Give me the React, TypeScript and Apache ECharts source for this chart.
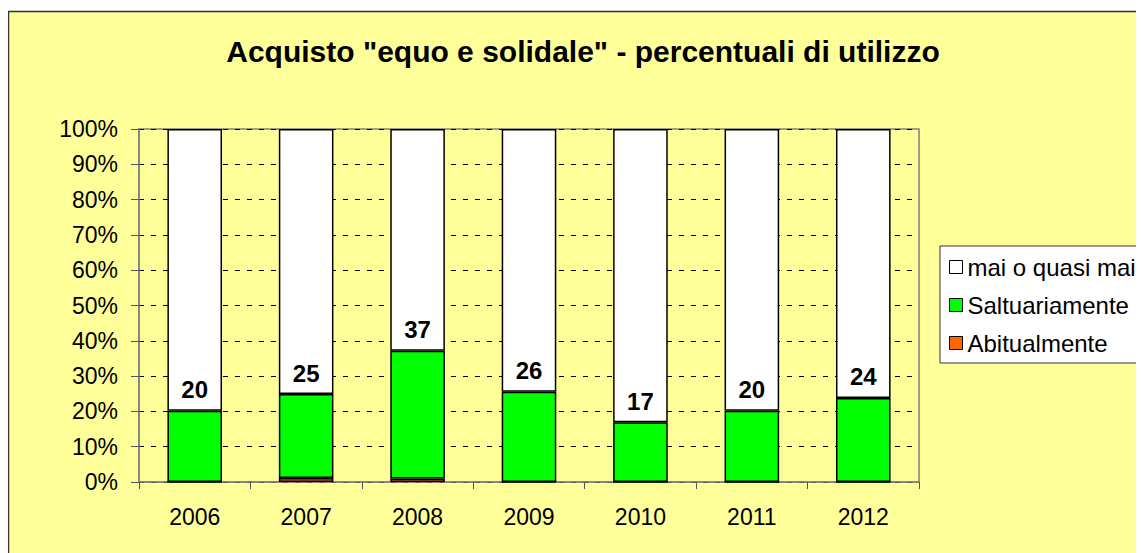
import React, { useEffect, useRef } from "react";
import * as echarts from "echarts";

const titleText = 'Acquisto "equo e solidale" - percentuali di utilizzo';
const years = ["2006", "2007", "2008", "2009", "2010", "2011", "2012"];
const abitualmente = [0, 1.1, 1, 0, 0, 0, 0];
const saltuariamente = [20.2, 23.8, 36.2, 25.6, 16.9, 20.2, 23.8];
const totali = [20, 25, 37, 26, 17, 20, 24];
const maiOQuasiMai = years.map((_, i) => 100 - abitualmente[i] - saltuariamente[i]);
const yTicks = { min: 0, max: 100, interval: 10 };

const FONT = "'Liberation Sans', Arial, sans-serif";

export default function App() {
  const ref = useRef<HTMLDivElement>(null);
  useEffect(() => {
    if (!ref.current) return;
    const chart = echarts.init(ref.current, null, { renderer: "svg" });
    const barBorder = { borderColor: "#000", borderWidth: 1.5 };
    chart.setOption({
      animation: false,
      textStyle: { fontFamily: FONT },
      graphic: [
        {
          type: "rect",
          z: -10,
          silent: true,
          shape: { x: 0.5, y: 3.5, width: 1300, height: 700 },
          style: { fill: "#FFFF99", stroke: "#333", lineWidth: 1.5 },
        },
        {
          type: "text",
          x: 575,
          y: 43,
          style: {
            text: titleText,
            fontFamily: FONT,
            fontSize: 30,
            fontWeight: "bold",
            fill: "#000",
            textAlign: "center",
            textVerticalAlign: "middle",
          },
        },
      ],
      legend: {
        orient: "vertical",
        left: 932,
        top: 238,
        backgroundColor: "#fff",
        borderColor: "#333",
        borderWidth: 1,
        padding: [9, 20, 8, 9],
        itemWidth: 13,
        itemHeight: 13,
        itemGap: 14,
        itemTextGap: 9,
        icon: "rect",
        itemStyle: { borderColor: "#000", borderWidth: 1 },
        textStyle: { fontFamily: FONT, fontSize: 24, color: "#000", lineHeight: 24 },
        data: ["mai o quasi mai", "Saltuariamente", "Abitualmente"],
      },
      grid: {
        left: 131,
        top: 121,
        right: 225,
        bottom: 71,
        show: true,
        borderColor: "#808080",
        borderWidth: 1.5,
        backgroundColor: "transparent",
      },
      xAxis: {
        type: "category",
        data: years,
        axisLine: { lineStyle: { color: "#808080", width: 1.5 } },
        axisTick: { show: true, length: 7, lineStyle: { color: "#555" } },
        axisLabel: { color: "#000", fontSize: 23, fontFamily: FONT, margin: 23 },
      },
      yAxis: {
        type: "value",
        min: yTicks.min,
        max: yTicks.max,
        interval: yTicks.interval,
        axisLine: { show: true, lineStyle: { color: "#808080", width: 1.5 } },
        axisTick: { show: true, length: 8, lineStyle: { color: "#555" } },
        axisLabel: { color: "#000", fontSize: 23, fontFamily: FONT, margin: 21, formatter: "{value}%" },
        splitLine: { show: true, lineStyle: { color: "#000", type: [5, 7], width: 1 } },
      },
      series: [
        {
          name: "Abitualmente",
          type: "bar",
          stack: "tot",
          barWidth: "49%",
          data: abitualmente,
          itemStyle: { color: "#FF6600", ...barBorder },
        },
        {
          name: "Saltuariamente",
          type: "bar",
          stack: "tot",
          data: saltuariamente,
          itemStyle: { color: "#00FF00", ...barBorder },
          label: {
            show: true,
            position: "top",
            distance: 9,
            fontSize: 24,
            fontWeight: "bold",
            fontFamily: FONT,
            color: "#000",
            formatter: (p: any) => String(totali[p.dataIndex]),
          },
        },
        {
          name: "mai o quasi mai",
          type: "bar",
          stack: "tot",
          data: maiOQuasiMai,
          itemStyle: { color: "#FFFFFF", ...barBorder },
        },
      ],
    });
    return () => chart.dispose();
  }, []);
  return <div ref={ref} style={{ width: 1136, height: 545 }} />;
}
